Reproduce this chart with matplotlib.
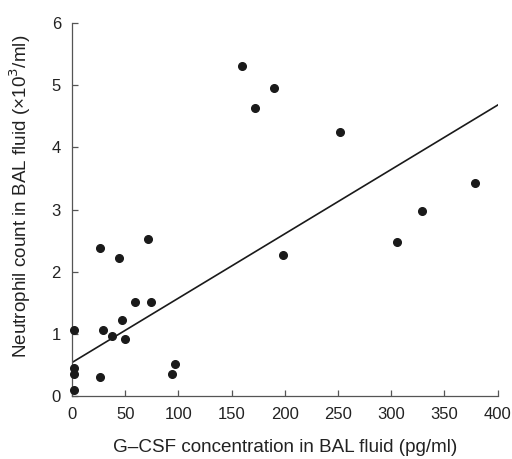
import matplotlib
matplotlib.use('agg')
import matplotlib.pyplot as plt

# G-CSF concentration (pg/ml) vs neutrophil count (x10^3/ml)
gcsf = [160, 172, 190, 252, 379, 329, 198, 305,
        26, 71, 44, 59, 74, 47, 2, 29, 38, 50,
        2, 2, 26, 2, 94, 97]
neutrophils = [5.30, 4.64, 4.95, 4.24, 3.42, 2.97, 2.27, 2.47,
               2.38, 2.53, 2.22, 1.52, 1.52, 1.22, 1.07, 1.07, 0.97, 0.92,
               0.46, 0.36, 0.31, 0.10, 0.36, 0.52]

# regression line ends
fit_x = [0, 400]
fit_y = [0.54, 4.68]

x_ticks = [0, 50, 100, 150, 200, 250, 300, 350, 400]
y_ticks = [0, 1, 2, 3, 4, 5, 6]

plt.rcParams['font.family'] = ['Liberation Sans', 'DejaVu Sans']

fig = plt.figure(figsize=(5.12, 4.59), dpi=100)
ax = fig.add_axes([0.1406, 0.137, 0.8315, 0.813])

ax.plot(fit_x, fit_y, color='#1a1a1a', linewidth=1.2, zorder=2)
ax.plot(gcsf, neutrophils, 'o', color='#1a1a1a', markersize=5.5, zorder=3, clip_on=False)

ax.set_xlim(0, 400)
ax.set_ylim(0, 6)
ax.set_xticks(x_ticks)
ax.set_yticks(y_ticks)

for side in ['top', 'right']:
    ax.spines[side].set_visible(False)
for side in ['left', 'bottom']:
    ax.spines[side].set_color('#555555')
    ax.spines[side].set_linewidth(0.9)

ax.tick_params(axis='both', direction='in', length=4, width=0.9, color='#555555',
               labelsize=12, labelcolor='#222222')
ax.tick_params(axis='y', pad=8)
ax.tick_params(axis='x', pad=8)

ax.set_xlabel('G\u2013CSF concentration in BAL fluid (pg/ml)', fontsize=13.6, color='#222222')
ax.set_ylabel('Neutrophil count in BAL fluid (\u00d710$^3$/ml)', fontsize=13.6, color='#222222')
ax.xaxis.set_label_coords(0.5, -0.115)
ax.yaxis.set_label_coords(-0.092, 0.534)

plt.savefig('out.png', dpi=100)
plt.close(fig)
